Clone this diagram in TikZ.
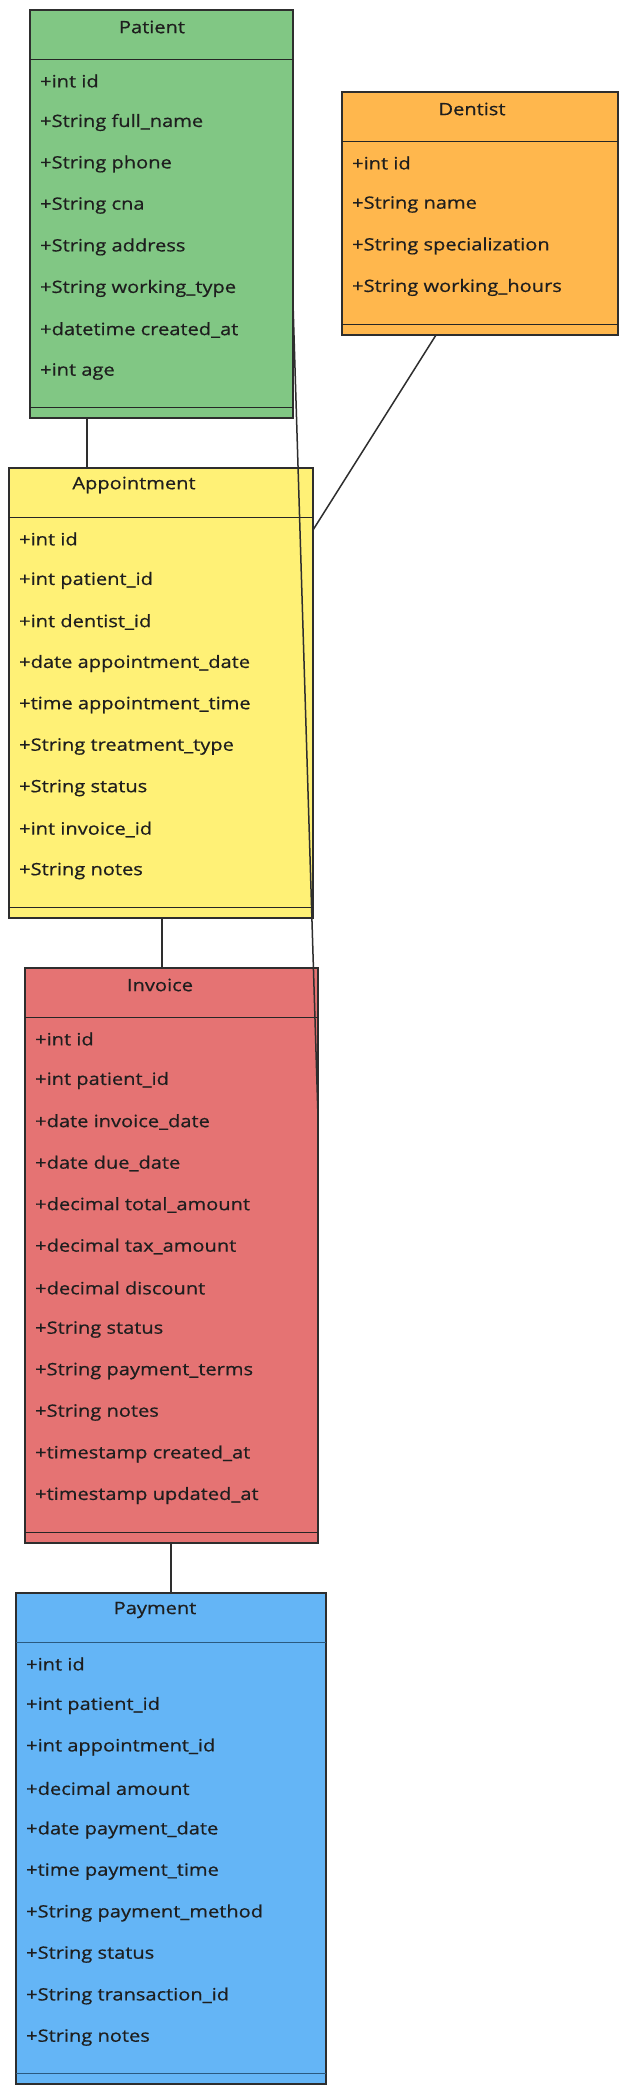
\documentclass[tikz,border=0pt]{standalone}
\usepackage{fontspec}
\setmainfont{Open Sans}[FakeStretch=1.18,FakeBold=0.6]
\definecolor{cpat}{HTML}{81C784}
\definecolor{cden}{HTML}{FFB74D}
\definecolor{capp}{HTML}{FFF176}
\definecolor{cinv}{HTML}{E57373}
\definecolor{cpay}{HTML}{64B5F6}
\definecolor{cline}{HTML}{2E2E2E}
\definecolor{ctext}{HTML}{1E1E1E}
\definecolor{cpaydiv}{HTML}{2A5A80}
\tikzset{
  classbox/.style={draw=cline, line width=1.7pt, rectangle, anchor=north west, inner sep=0pt, outer sep=0pt},
  divider/.style={draw=black!85, line width=1pt},
  ctitle/.style={font=\fontsize{17}{20}\selectfont, text=ctext, inner sep=0pt},
  attr/.style={font=\fontsize{17}{20}\selectfont, text=ctext, inner sep=0pt, anchor=west},
  conn/.style={draw=cline, line width=1.5pt},
}
\begin{document}
\begin{tikzpicture}[x=1pt,y=-1pt]
\useasboundingbox[fill=white] (0,0) rectangle (628,2095);
% Patient
\node[classbox, fill=cpat, minimum width=263pt, minimum height=408pt] (patient) at (30,10) {};
\draw[divider] ([yshift=-49.5pt]patient.north west) -- ([yshift=-49.5pt]patient.north east);
\draw[divider] ([yshift=10.5pt]patient.south west) -- ([yshift=10.5pt]patient.south east);
\node[ctitle] (patient-t) at (152,27) {Patient};
\foreach \t [count=\i] in {+int id,+String full\_name,+String phone,+String cna,+String address,+String working\_type,+datetime created\_at,+int age}
  \node[attr] (patient-a\i) at (40,{81+41.5*(\i-1)}) {\t};
% Dentist
\node[classbox, fill=cden, minimum width=276pt, minimum height=243pt] (dentist) at (342,92) {};
\draw[divider] ([yshift=-49.5pt]dentist.north west) -- ([yshift=-49.5pt]dentist.north east);
\draw[divider] ([yshift=10.5pt]dentist.south west) -- ([yshift=10.5pt]dentist.south east);
\node[ctitle] (dentist-t) at (472,109) {Dentist};
\foreach \t [count=\i] in {+int id,+String name,+String specialization,+String working\_hours}
  \node[attr] (dentist-a\i) at (352,{163+41.5*(\i-1)}) {\t};
% Appointment
\node[classbox, fill=capp, minimum width=304pt, minimum height=450pt] (appt) at (9,468) {};
\draw[divider] ([yshift=-49.5pt]appt.north west) -- ([yshift=-49.5pt]appt.north east);
\draw[divider] ([yshift=10.5pt]appt.south west) -- ([yshift=10.5pt]appt.south east);
\node[ctitle] (appt-t) at (134,485) {Appointment};
\foreach \t [count=\i] in {+int id,+int patient\_id,+int dentist\_id,+date appointment\_date,+time appointment\_time,+String treatment\_type,+String status,+int invoice\_id,+String notes}
  \node[attr] (appt-a\i) at (19,{539+41.5*(\i-1)}) {\t};
% Invoice
\node[classbox, fill=cinv, minimum width=293pt, minimum height=575pt] (invoice) at (25,968) {};
\draw[divider] ([yshift=-49.5pt]invoice.north west) -- ([yshift=-49.5pt]invoice.north east);
\draw[divider] ([yshift=10.5pt]invoice.south west) -- ([yshift=10.5pt]invoice.south east);
\node[ctitle] (invoice-t) at (160,985) {Invoice};
\foreach \t [count=\i] in {+int id,+int patient\_id,+date invoice\_date,+date due\_date,+decimal total\_amount,+decimal tax\_amount,+decimal discount,+String status,+String payment\_terms,+String notes,+timestamp created\_at,+timestamp updated\_at}
  \node[attr] (invoice-a\i) at (35,{1039+41.5*(\i-1)}) {\t};
% Payment
\node[classbox, fill=cpay, minimum width=310pt, minimum height=491pt] (payment) at (16,1593) {};
\draw[divider, draw=cpaydiv] ([yshift=-49.5pt]payment.north west) -- ([yshift=-49.5pt]payment.north east);
\draw[divider, draw=cpaydiv] ([yshift=10.5pt]payment.south west) -- ([yshift=10.5pt]payment.south east);
\node[ctitle] (payment-t) at (155,1610) {Payment};
\foreach \t [count=\i] in {+int id,+int patient\_id,+int appointment\_id,+decimal amount,+date payment\_date,+time payment\_time,+String payment\_method,+String status,+String transaction\_id,+String notes}
  \node[attr] (payment-a\i) at (26,{1664+41.5*(\i-1)}) {\t};
% connector reference points
\coordinate (x1) at (87,0);
\coordinate (x2) at (436,0);
\coordinate (y2) at (0,530);
\coordinate (y3a) at (0,303);
\coordinate (y3b) at (0,1117);
\coordinate (x4) at (162,0);
\coordinate (x5) at (171,0);
% connectors
\draw[conn] (patient.south -| x1) -- (appt.north -| x1);
\draw[conn] (dentist.south -| x2) -- (appt.east |- y2);
\draw[conn] (patient.east |- y3a) -- (invoice.east |- y3b);
\draw[conn] (appt.south -| x4) -- (invoice.north -| x4);
\draw[conn] (invoice.south -| x5) -- (payment.north -| x5);
\end{tikzpicture}
\end{document}
